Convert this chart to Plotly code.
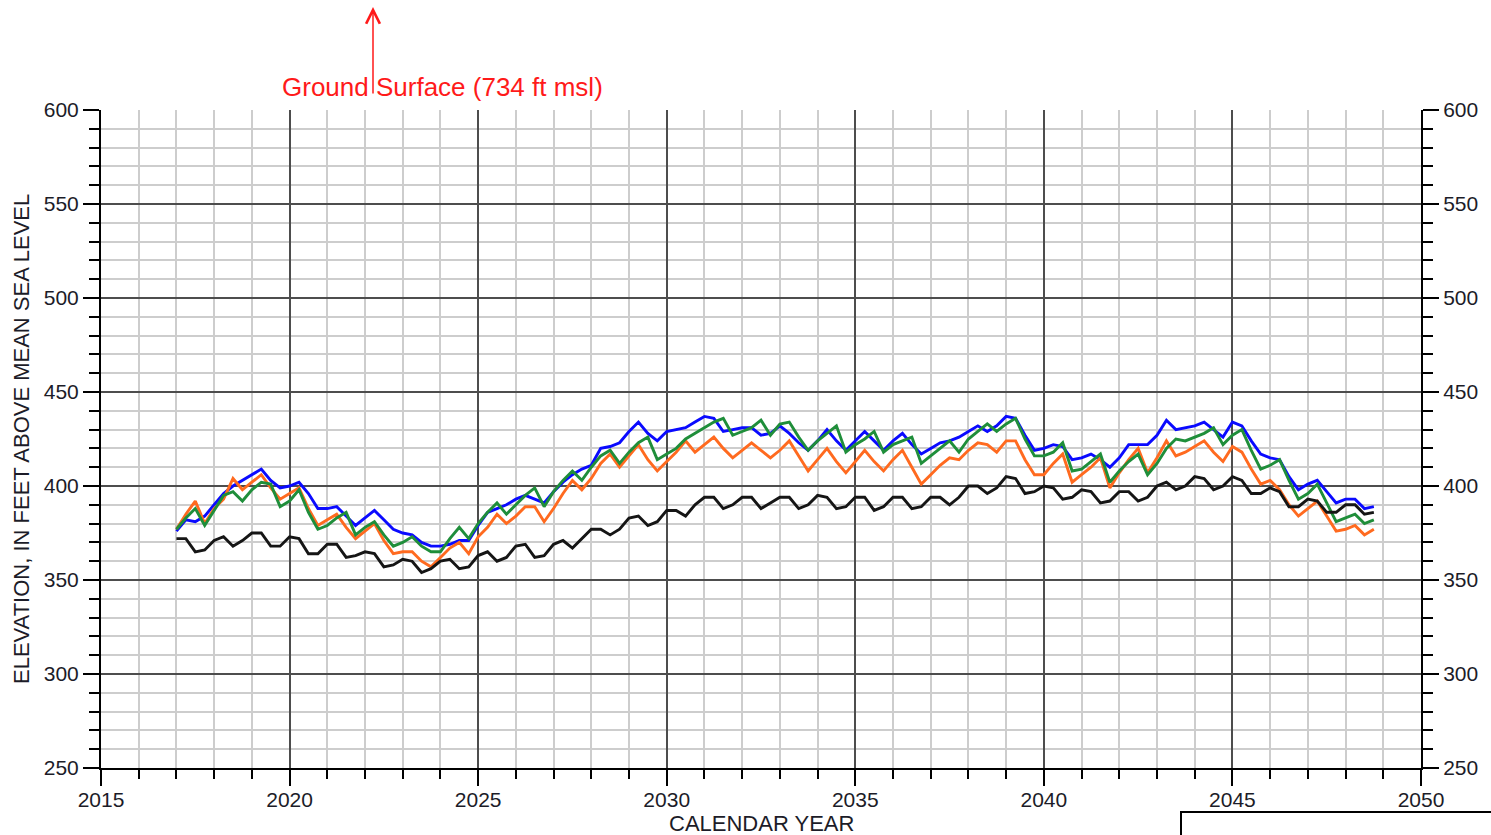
import plotly.graph_objects as go

# Quarterly simulation dates: 2017.00 through 2048.75
start_year = 2017
end_year = 2048
quarter_years = [y + q / 4 for y in range(start_year, end_year + 1) for q in range(4)]

# Simulated groundwater elevations (ft above mean sea level), four values per year
blue_values = [
    376, 382, 381, 384,  390, 396, 400, 403,  406, 409, 403, 399,  400, 402, 396, 388,
    388, 389, 384, 379,  383, 387, 382, 377,  375, 374, 370, 368,  368, 369, 371, 371,
    379, 386, 388, 390,  393, 395, 393, 391,  397, 402, 406, 409,  411, 420, 421, 423,
    429, 434, 428, 424,  429, 430, 431, 434,  437, 436, 429, 430,  431, 431, 427, 428,
    432, 428, 423, 419,  424, 430, 424, 419,  424, 429, 424, 419,  424, 428, 422, 417,
    420, 423, 424, 426,  429, 432, 429, 432,  437, 436, 427, 419,  420, 422, 421, 414,
    415, 417, 414, 410,  415, 422, 422, 422,  427, 435, 430, 431,  432, 434, 430, 426,
    434, 432, 424, 417,  415, 414, 405, 398,  401, 403, 397, 391,  393, 393, 388, 389,
]

orange_values = [
    377, 385, 392, 380,  388, 393, 404, 398,  402, 406, 399, 393,  396, 399, 388, 379,
    382, 385, 378, 372,  376, 380, 371, 364,  365, 365, 360, 357,  362, 367, 370, 364,
    373, 378, 385, 380,  384, 389, 389, 381,  388, 396, 403, 398,  404, 412, 417, 410,
    416, 422, 414, 408,  413, 418, 424, 418,  422, 426, 420, 415,  419, 423, 419, 415,
    419, 424, 416, 408,  414, 420, 413, 407,  413, 419, 413, 408,  414, 419, 410, 401,
    406, 411, 415, 414,  419, 423, 422, 418,  424, 424, 414, 406,  406, 412, 417, 402,
    406, 410, 415, 399,  407, 414, 420, 407,  415, 424, 416, 418,  421, 424, 418, 413,
    421, 418, 409, 401,  403, 398, 390, 384,  388, 392, 384, 376,  377, 379, 374, 377,
]

green_values = [
    377, 383, 388, 379,  387, 395, 397, 392,  398, 402, 401, 389,  392, 398, 386, 377,
    379, 383, 386, 374,  378, 381, 374, 368,  370, 373, 368, 365,  365, 372, 378, 372,
    380, 386, 391, 385,  390, 395, 399, 389,  397, 403, 408, 403,  410, 416, 419, 412,
    418, 423, 426, 414,  417, 420, 425, 428,  431, 434, 436, 427,  429, 431, 435, 427,
    433, 434, 426, 419,  424, 428, 432, 418,  422, 425, 429, 418,  422, 424, 426, 412,
    416, 420, 424, 418,  425, 429, 433, 429,  433, 436, 425, 416,  416, 418, 423, 408,
    409, 413, 417, 402,  408, 413, 417, 406,  412, 420, 425, 424,  426, 428, 431, 422,
    427, 430, 419, 409,  411, 414, 403, 393,  396, 401, 391, 381,  383, 385, 380, 382,
]

black_values = [
    372, 372, 365, 366,  371, 373, 368, 371,  375, 375, 368, 368,  373, 372, 364, 364,
    369, 369, 362, 363,  365, 364, 357, 358,  361, 360, 354, 356,  360, 361, 356, 357,
    363, 365, 360, 362,  368, 369, 362, 363,  369, 371, 367, 372,  377, 377, 374, 377,
    383, 384, 379, 381,  387, 387, 384, 390,  394, 394, 388, 390,  394, 394, 388, 391,
    394, 394, 388, 390,  395, 394, 388, 389,  394, 394, 387, 389,  394, 394, 388, 389,
    394, 394, 390, 394,  400, 400, 396, 399,  405, 404, 396, 397,  400, 399, 393, 394,
    398, 397, 391, 392,  397, 397, 392, 394,  400, 402, 398, 400,  405, 404, 398, 400,
    405, 403, 396, 396,  399, 397, 389, 389,  393, 392, 386, 386,  390, 390, 385, 386,
]

x_range = [2015, 2050]
y_range = [250, 600]
x_tick_values = [2015, 2020, 2025, 2030, 2035, 2040, 2045, 2050]
y_tick_values = [250, 300, 350, 400, 450, 500, 550, 600]

FONT = "Liberation Sans, Arial, sans-serif"
LABEL_COLOR = "#1c1c28"
MAJOR_GRID = "#4d4d4d"
MINOR_GRID = "#cdcdcd"
RED = "#ff1a1a"
LABEL_SIZE = 21

fig = go.Figure()

series = [
    ("blue", blue_values, "#0a0aff", "y"),
    ("orange", orange_values, "#ff6a1f", "y"),
    ("green", green_values, "#1f8e3a", "y"),
    ("black", black_values, "#151515", "y2"),
]
for name, values, color, axis in series:
    fig.add_trace(go.Scatter(
        x=quarter_years, y=values, mode="lines", name=name, yaxis=axis,
        line=dict(color=color, width=2.9), showlegend=False,
        hoverinfo="skip",
    ))

axis_common = dict(
    showline=True, linecolor="black", linewidth=2,
    ticks="outside", ticklen=16, tickwidth=2, tickcolor="black",
    tickfont=dict(family=FONT, size=LABEL_SIZE, color=LABEL_COLOR),
    zeroline=False, automargin=False,
)
y_minor = dict(dtick=10, tick0=250, ticks="outside", ticklen=10, tickwidth=2,
               tickcolor="black", gridcolor=MINOR_GRID, gridwidth=2)

fig.update_layout(
    width=1491, height=835,
    margin=dict(l=101, r=70, t=110, b=67),
    paper_bgcolor="white", plot_bgcolor="white",
    showlegend=False,
    xaxis=dict(
        range=x_range, tickvals=x_tick_values,
        showgrid=True, gridcolor=MAJOR_GRID, gridwidth=1.6,
        ticklabelstandoff=-4,
        minor=dict(dtick=1, tick0=2015, ticks="outside", ticklen=9, tickwidth=2,
                   tickcolor="black", showgrid=True, gridcolor=MINOR_GRID, gridwidth=2),
        **axis_common,
    ),
    yaxis=dict(
        range=y_range, tickvals=y_tick_values,
        showgrid=True, gridcolor=MAJOR_GRID, gridwidth=1.6,
        minor=dict(showgrid=True, **y_minor),
        **axis_common,
    ),
    yaxis2=dict(
        range=y_range, tickvals=y_tick_values, overlaying="y", side="right",
        anchor="x", showgrid=False,
        minor=dict(showgrid=False, **y_minor),
        **axis_common,
    ),
)

# Axis titles
fig.add_annotation(
    xref="paper", yref="paper", x=0.5, y=(768 - 824) / 658,
    text="CALENDAR YEAR", showarrow=False,
    font=dict(family=FONT, size=LABEL_SIZE + 1, color=LABEL_COLOR),
    xanchor="center", yanchor="middle",
)
fig.add_annotation(
    xref="paper", yref="paper", x=(21 - 101) / 1320, y=0.5,
    text="ELEVATION, IN FEET ABOVE MEAN SEA LEVEL", showarrow=False, textangle=-90,
    font=dict(family=FONT, size=LABEL_SIZE + 1, color=LABEL_COLOR),
    xanchor="center", yanchor="middle",
)

# Ground-surface marker above the plotted range
fig.add_annotation(
    xref="paper", yref="paper", x=(373 - 101) / 1320, y=(768 - 7) / 658,
    ax=0, ay=88, axref="pixel", ayref="pixel",
    text="", showarrow=True, arrowhead=5, arrowsize=1.8, arrowwidth=1.5,
    arrowcolor=RED,
)
fig.add_annotation(
    xref="paper", yref="paper", x=(442 - 101) / 1320, y=(768 - 87) / 658,
    text="Ground Surface (734 ft msl)", showarrow=False,
    font=dict(family=FONT, size=26, color=RED),
    xanchor="center", yanchor="middle",
)

# Frame of the explanation box below the chart
fig.add_shape(
    type="rect", xref="paper", yref="paper",
    x0=(1181 - 101) / 1320, x1=1.2, y0=(768 - 812) / 658, y1=-0.3,
    line=dict(color="black", width=2), fillcolor="rgba(0,0,0,0)",
)

fig.write_html("out.html")
